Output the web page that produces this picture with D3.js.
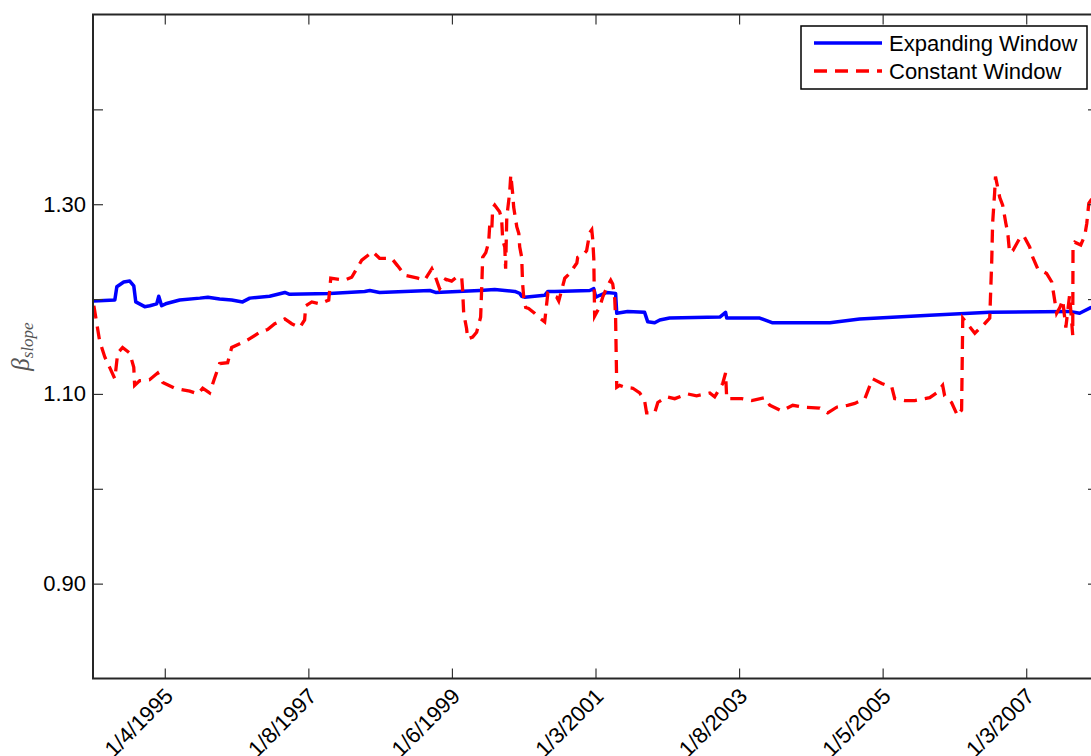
<!DOCTYPE html>
<html>
<head>
<meta charset="utf-8">
<script src="https://cdn.jsdelivr.net/npm/d3@7"></script>
<style>
  body { margin: 0; background: #fff; }
  svg { display: block; font-family: "Liberation Sans", Arial, sans-serif; }
  .tick text { font-size: 22px; fill: #000; }
  .legend text { font-size: 22px; fill: #000; }
</style>
</head>
<body>
<svg id="chart" width="1091" height="756"></svg>
<script>
// observation index on the x axis, beta on the y axis
const xTickPositions = [250, 750, 1250, 1750, 2250, 2750, 3250];
const xTickLabels = ["1/4/1995", "1/8/1997", "1/6/1999", "1/3/2001", "1/8/2003", "1/5/2005", "1/3/2007"];
const yTickPositions = [0.9, 1.0, 1.1, 1.2, 1.3, 1.4];
const yTickLabels = ["0.90", "", "1.10", "", "1.30", ""];
const seriesNames = ["Expanding Window", "Constant Window"];

const expandingWindow = [
  [2, 1.198], [76, 1.199], [83, 1.213], [107, 1.218], [128, 1.219], [142, 1.214],
  [149, 1.197], [180, 1.192], [198, 1.193], [222, 1.195], [229, 1.203], [239, 1.193],
  [253, 1.195], [302, 1.199], [372, 1.201], [400, 1.202], [441, 1.200], [483, 1.199],
  [521, 1.197], [546, 1.201], [615, 1.203], [668, 1.207], [685, 1.205], [824, 1.206],
  [946, 1.208], [964, 1.209], [998, 1.207], [1173, 1.209], [1193, 1.207], [1347, 1.209],
  [1399, 1.210], [1469, 1.208], [1486, 1.206], [1493, 1.203], [1503, 1.202], [1573, 1.204],
  [1584, 1.208], [1608, 1.208], [1730, 1.209], [1744, 1.211], [1751, 1.202], [1765, 1.204],
  [1789, 1.207], [1820, 1.206], [1824, 1.185], [1862, 1.187], [1921, 1.186], [1932, 1.176],
  [1956, 1.175], [1974, 1.178], [2008, 1.180], [2183, 1.181], [2203, 1.186], [2207, 1.180],
  [2322, 1.180], [2367, 1.175], [2566, 1.175], [2670, 1.179], [2914, 1.183], [3123, 1.186],
  [3401, 1.187], [3436, 1.185], [3475, 1.191], [3500, 1.194]
];

const constantWindow = [
  [3, 1.193], [9, 1.182], [23, 1.156], [41, 1.139], [58, 1.128], [76, 1.116],
  [86, 1.143], [103, 1.149], [128, 1.143], [142, 1.128], [145, 1.109], [163, 1.114],
  [197, 1.115], [225, 1.122], [243, 1.112], [285, 1.106], [337, 1.103], [365, 1.100],
  [382, 1.106], [406, 1.101], [424, 1.117], [441, 1.132], [469, 1.133], [483, 1.149],
  [511, 1.153], [539, 1.157], [581, 1.165], [608, 1.168], [633, 1.174], [668, 1.179],
  [692, 1.174], [720, 1.170], [737, 1.178], [741, 1.193], [762, 1.197], [790, 1.195],
  [821, 1.199], [828, 1.222], [877, 1.220], [901, 1.223], [936, 1.241], [974, 1.250],
  [998, 1.243], [1040, 1.243], [1061, 1.235], [1086, 1.225], [1131, 1.222], [1155, 1.220],
  [1180, 1.232], [1193, 1.223], [1207, 1.211], [1228, 1.221], [1249, 1.219], [1270, 1.224],
  [1284, 1.223], [1287, 1.211], [1291, 1.185], [1301, 1.169], [1305, 1.158], [1322, 1.160],
  [1336, 1.165], [1350, 1.181], [1354, 1.214], [1357, 1.244], [1368, 1.249], [1378, 1.260],
  [1382, 1.280], [1389, 1.275], [1392, 1.296], [1399, 1.299], [1416, 1.292], [1423, 1.285],
  [1427, 1.262], [1434, 1.255], [1437, 1.232], [1441, 1.286], [1444, 1.294], [1451, 1.312],
  [1455, 1.331], [1462, 1.310], [1465, 1.297], [1476, 1.276], [1483, 1.269], [1486, 1.255],
  [1493, 1.244], [1496, 1.217], [1500, 1.202], [1507, 1.191], [1517, 1.190], [1538, 1.185],
  [1556, 1.180], [1573, 1.176], [1584, 1.206], [1597, 1.204], [1615, 1.202], [1622, 1.198],
  [1643, 1.222], [1660, 1.227], [1685, 1.238], [1688, 1.244], [1705, 1.246], [1719, 1.251],
  [1730, 1.270], [1737, 1.273], [1740, 1.264], [1744, 1.243], [1747, 1.182], [1765, 1.192],
  [1775, 1.202], [1792, 1.214], [1803, 1.220], [1810, 1.216], [1817, 1.200], [1820, 1.180],
  [1824, 1.107], [1834, 1.109], [1852, 1.107], [1880, 1.106], [1904, 1.101], [1921, 1.093],
  [1928, 1.080], [1956, 1.080], [1967, 1.091], [1998, 1.097], [2026, 1.095], [2071, 1.100],
  [2102, 1.098], [2148, 1.101], [2165, 1.097], [2193, 1.111], [2203, 1.122], [2207, 1.095],
  [2259, 1.095], [2294, 1.093], [2339, 1.096], [2357, 1.088], [2398, 1.082], [2437, 1.088],
  [2472, 1.086], [2531, 1.085], [2559, 1.080], [2590, 1.086], [2628, 1.088], [2653, 1.090],
  [2688, 1.095], [2715, 1.116], [2747, 1.111], [2782, 1.107], [2792, 1.095], [2827, 1.093],
  [2862, 1.093], [2914, 1.096], [2938, 1.101], [2959, 1.109], [2966, 1.098], [2990, 1.091],
  [3011, 1.077], [3025, 1.083], [3029, 1.180], [3071, 1.164], [3105, 1.174], [3123, 1.180],
  [3130, 1.241], [3133, 1.280], [3140, 1.312], [3143, 1.329], [3158, 1.307], [3168, 1.299],
  [3179, 1.280], [3186, 1.269], [3192, 1.249], [3203, 1.251], [3227, 1.264], [3241, 1.267],
  [3262, 1.255], [3273, 1.244], [3290, 1.232], [3321, 1.227], [3339, 1.218], [3349, 1.199],
  [3356, 1.185], [3367, 1.191], [3377, 1.199], [3388, 1.170], [3401, 1.204], [3412, 1.162],
  [3413, 1.257], [3419, 1.260], [3440, 1.257], [3454, 1.267], [3461, 1.280], [3468, 1.301],
  [3500, 1.315]
];

const svg = d3.select("#chart");
const box = { left: 93, right: 1098, top: 14.5, bottom: 678.5 };

const x = d3.scaleLinear().domain([0, 3500]).range([box.left, box.right]);
const y = d3.scaleLinear().domain([0.8, 1.5]).range([box.bottom, box.top]);

svg.append("defs").append("clipPath").attr("id", "plotClip")
  .append("rect")
  .attr("x", box.left).attr("y", box.top)
  .attr("width", box.right - box.left).attr("height", box.bottom - box.top);

const line = d3.line().x(d => x(d[0])).y(d => y(d[1]));

// blue first, red dashes drawn on top of it
const plot = svg.append("g").attr("clip-path", "url(#plotClip)");

plot.append("path")
  .datum(expandingWindow)
  .attr("d", line)
  .attr("fill", "none")
  .attr("stroke", "#0000ff")
  .attr("stroke-width", 3.5)
  .attr("stroke-linejoin", "round");

plot.append("path")
  .datum(constantWindow)
  .attr("d", line)
  .attr("fill", "none")
  .attr("stroke", "#ff0000")
  .attr("stroke-width", 3.3)
  .attr("stroke-dasharray", "13,8");

// axes, ticks pointing inward like matlab
const styleAxis = g => {
  g.select(".domain").remove();
  g.selectAll(".tick line").attr("stroke", "#333").attr("stroke-width", 1.2);
};

const xBottom = svg.append("g")
  .attr("transform", `translate(0,${box.bottom})`)
  .call(d3.axisBottom(x).tickValues(xTickPositions).tickSize(-10)
    .tickFormat((d, i) => xTickLabels[i]))
  .call(styleAxis);

xBottom.selectAll(".tick text")
  .attr("text-anchor", "end")
  .attr("x", 0).attr("y", 0).attr("dy", 0)
  .attr("transform", "translate(9,19) rotate(-45)");

svg.append("g")
  .attr("transform", `translate(0,${box.top})`)
  .call(d3.axisTop(x).tickValues(xTickPositions).tickSize(-10).tickFormat(""))
  .call(styleAxis);

svg.append("g")
  .attr("transform", `translate(${box.left},0)`)
  .call(d3.axisLeft(y).tickValues(yTickPositions).tickSize(-10).tickPadding(7)
    .tickFormat((d, i) => yTickLabels[i]))
  .call(styleAxis);

svg.append("g")
  .attr("transform", `translate(${box.right},0)`)
  .call(d3.axisRight(y).tickValues(yTickPositions).tickSize(-10).tickFormat(""))
  .call(styleAxis);

svg.append("rect")
  .attr("x", box.left).attr("y", box.top)
  .attr("width", box.right - box.left).attr("height", box.bottom - box.top)
  .attr("fill", "none")
  .attr("stroke", "#262626")
  .attr("stroke-width", 2);

// y label: beta with subscript
const yLabel = svg.append("text")
  .attr("transform", `translate(29,${(box.top + box.bottom) / 2}) rotate(-90)`)
  .attr("text-anchor", "middle")
  .style("font-family", "'Liberation Serif', 'DejaVu Serif', serif")
  .style("font-style", "italic")
  .attr("fill", "#555");
yLabel.append("tspan").style("font-size", "25px").text("β");
yLabel.append("tspan").style("font-size", "17px").attr("dy", 4).text("slope");

// legend
const legend = svg.append("g").attr("class", "legend");
legend.append("rect")
  .attr("x", 801).attr("y", 26).attr("width", 286).attr("height", 63)
  .attr("fill", "#fff").attr("stroke", "#000").attr("stroke-width", 1.5);

const legendStyles = [
  { color: "#0000ff", dash: null },
  { color: "#ff0000", dash: "13,8" }
];
seriesNames.forEach((name, i) => {
  const ly = 43 + i * 28;
  legend.append("line")
    .attr("x1", 814).attr("x2", 882).attr("y1", ly).attr("y2", ly)
    .attr("stroke", legendStyles[i].color).attr("stroke-width", 3.3)
    .attr("stroke-dasharray", legendStyles[i].dash);
  legend.append("text")
    .attr("x", 889).attr("y", ly + 8)
    .text(name);
});
</script>
</body>
</html>
